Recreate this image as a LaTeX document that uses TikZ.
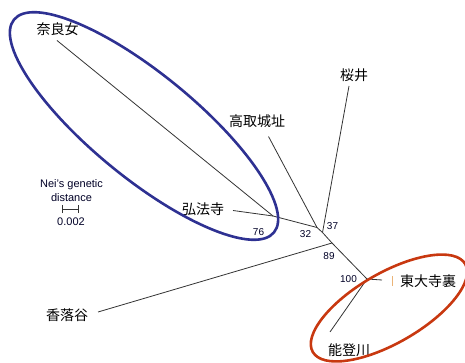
\documentclass[tikz,border=0pt]{standalone}
\usepackage{fontspec}
\setmainfont{Liberation Sans}
\newfontfamily\jpfont{Noto Sans CJK JP}
\begin{document}
\begin{tikzpicture}[x=1pt,y=-1pt,
  branch/.style={draw=black!80, line width=0.8pt},
  jlabel/.style={font=\jpfont\fontsize{14}{14}\selectfont, inner sep=0pt, text=black},
  boot/.style={font=\fontsize{10}{10}\selectfont, inner sep=0pt, text=black!85!blue},
  scaletxt/.style={font=\fontsize{11}{11}\selectfont, inner sep=0pt, text=black!85!blue},
  blueoval/.style={draw={rgb,255:red,46;green,49;blue,146}, line width=2.6pt},
  redoval/.style={draw={rgb,255:red,200;green,56;blue,16}, line width=2.6pt}]
\useasboundingbox (0,0) rectangle (465,363);
% internal nodes
\coordinate (A) at (273,216);
\coordinate (B) at (317,227.5);
\coordinate (C) at (322.5,232.5);
\coordinate (D) at (332,243);
\coordinate (E) at (367,279);
% leaf ends
\coordinate (nara) at (57,40.5);
\coordinate (kobo) at (233,210.5);
\coordinate (taka) at (268.5,136.5);
\coordinate (saku) at (349,86);
\coordinate (kori) at (98,312);
\coordinate (toda) at (382,280);
\coordinate (noto) at (330,332);
% branches
\draw[branch] (nara) -- (A);
\draw[branch] (kobo) -- (A);
\draw[branch] (A) -- (B);
\draw[branch] (taka) -- (B);
\draw[branch] (B) -- (C);
\draw[branch] (saku) -- (C);
\draw[branch] (C) -- (D);
\draw[branch] (kori) -- (D);
\draw[branch] (D) -- (E);
\draw[branch] (E) -- (toda);
\draw[branch] (E) -- (noto);
% faint tick
\coordinate (tk1) at (392,276);
\coordinate (tk2) at (392,285.5);
\draw[draw={rgb,255:red,235;green,180;blue,120}, line width=0.8pt] (tk1) -- (tk2);
% labels
\node[jlabel] (lnara) at (57.5,29) {奈良女};
\node[jlabel] (lkobo) at (203,209.5) {弘法寺};
\node[jlabel] (ltaka) at (257,121) {高取城址};
\node[jlabel] (lsaku) at (354,75.5) {桜井};
\node[jlabel] (lkori) at (67,315) {香落谷};
\node[jlabel] (ltoda) at (428,281) {東大寺裏};
\node[jlabel] (lnoto) at (349,350) {能登川};
% bootstrap values
\node[boot] (b76) at (258.5,232.5) {76};
\node[boot] (b32) at (305.5,234.5) {32};
\node[boot] (b37) at (332.5,226) {37};
\node[boot] (b89) at (329,256) {89};
\node[boot] (b100) at (348.5,279) {100};
% scale
\node[scaletxt] (s1) at (71.5,185) {Nei's genetic};
\node[scaletxt] (s2) at (71.5,197.5) {distance};
\coordinate (bar1) at (62.5,209);
\coordinate (bar2) at (78,209);
\draw[black!80, line width=0.8pt] (bar1) -- (bar2);
\draw[black!80, line width=0.8pt] ([yshift=-4pt]bar1) -- ([yshift=3.5pt]bar1);
\draw[black!80, line width=0.8pt] ([yshift=-4pt]bar2) -- ([yshift=3.5pt]bar2);
\node[scaletxt] (s3) at (71,221.5) {0.002};
% ovals
\draw[blueoval, rotate around={-39.3:(144,126)}] (144,126) ellipse [x radius=168pt, y radius=52pt];
\draw[redoval, rotate around={30:(389,308)}] (389,308) ellipse [x radius=88pt, y radius=35pt];
\end{tikzpicture}
\end{document}
